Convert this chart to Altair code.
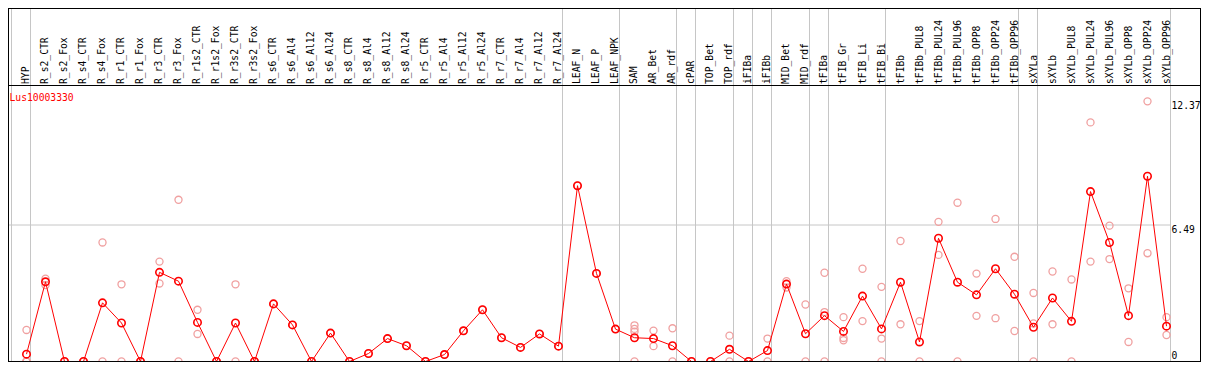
import altair as alt
import pandas as pd

gene = "Lus10003330"

categories = [
    "HYP", "R_s2_CTR", "R_s2_Fox", "R_s4_CTR", "R_s4_Fox", "R_r1_CTR", "R_r1_Fox",
    "R_r3_CTR", "R_r3_Fox", "R_r1s2_CTR", "R_r1s2_Fox", "R_r3s2_CTR", "R_r3s2_Fox",
    "R_s6_CTR", "R_s6_Al4", "R_s6_Al12", "R_s6_Al24", "R_s8_CTR", "R_s8_Al4",
    "R_s8_Al12", "R_s8_Al24", "R_r5_CTR", "R_r5_Al4", "R_r5_Al12", "R_r5_Al24",
    "R_r7_CTR", "R_r7_Al4", "R_r7_Al12", "R_r7_Al24", "LEAF_N", "LEAF_P", "LEAF_NPK",
    "SAM", "AR_Bet", "AR_rdf", "cPAR", "TOP_Bet", "TOP_rdf", "iFIBa", "iFIBb",
    "MID_Bet", "MID_rdf", "tFIBa", "tFIB_Gr", "tFIB_Li", "tFIB_Bi", "tFIBb",
    "tFIBb_PUL8", "tFIBb_PUL24", "tFIBb_PUL96", "tFIBb_OPP8", "tFIBb_OPP24",
    "tFIBb_OPP96", "sXYLa", "sXYLb", "sXYLb_PUL8", "sXYLb_PUL24", "sXYLb_PUL96",
    "sXYLb_OPP8", "sXYLb_OPP24", "sXYLb_OPP96",
]

mean_expr = [
    0.35, 3.79, 0, 0, 2.79, 1.83, 0, 4.24, 3.82, 1.86, 0, 1.83, 0,
    2.74, 1.74, 0, 1.35, 0, 0.38, 1.09, 0.75, 0, 0.33, 1.46, 2.46,
    1.13, 0.67, 1.31, 0.73, 8.36, 4.19, 1.54,
    1.13, 1.09, 0.75, 0, 0, 0.58, 0, 0.52, 3.68, 1.32, 2.18, 1.43, 3.11, 1.55,
    3.77, 0.93, 5.86, 3.77, 3.17, 4.41, 3.20, 1.63, 3.02, 1.91, 8.08, 5.66,
    2.18, 8.81, 1.68,
]

rep_expr = [
    [1.50, 0, 0, 0], [3.94, 3.63], [0, 0], [0, 0], [5.66, 0], [3.67, 0], [0, 0],
    [4.75, 3.71], [7.69, 0], [2.46, 1.31], [0, 0], [3.67, 0], [0, 0],
    [2.74], [1.74], [0], [1.35], [0], [0.38], [1.09], [0.75], [0], [0.33], [1.46], [2.46],
    [1.13], [0.67], [1.31], [0.73], [8.36], [4.19], [1.54],
    [1.72, 1.55, 1.42, 0], [1.47, 0.73], [1.58, 0], [0], [0], [1.23, 0], [0], [1.09, 0],
    [3.82, 3.52], [2.71, 0], [4.22, 2.35, 0], [2.11, 1.12, 1.01], [4.41, 1.92],
    [3.55, 1.09, 0], [5.73, 1.77], [1.92, 0], [6.64, 5.07], [7.55, 0], [4.18, 2.17],
    [6.78, 2.06], [4.98, 1.45], [3.26, 1.81, 0], [4.28, 1.77], [3.90, 0],
    [11.37, 4.75], [6.46, 4.87], [3.48, 0.93], [12.37, 5.15], [2.11, 1.26],
]

# group separators are drawn just after these category indices
sep_after = [-1, 0, 28, 31, 34, 35, 37, 38, 39, 41, 42, 45, 52, 53, 60]

tick_values = [0, 6.49, 12.37]

W, H = 1193, 354
FONT = "DejaVu Sans Mono"
FS = 9.7
GRID = "#c6c6c6"

x_scale = alt.Scale(domain=[-0.97368, 61.81579], nice=False, zero=False)
y_scale = alt.Scale(domain=[-0.02378, 16.8093], nice=False, zero=False)

mean_df = pd.DataFrame({"idx": list(range(len(categories))), "cat": categories, "expr": mean_expr})
rep_df = pd.DataFrame(
    [{"idx": i, "expr": v} for i, reps in enumerate(rep_expr) for v in reps]
)
sep_df = pd.DataFrame({"idx": sep_after})
tick_df = pd.DataFrame({"v": tick_values, "label": [f"{v:g}" for v in tick_values]})
grid_df = tick_df.iloc[1:-1]
top_ticks = tick_df[tick_df["v"] > 0]
zero_tick = tick_df[tick_df["v"] == 0]

X = alt.X("idx:Q", scale=x_scale, axis=None)
Y = alt.Y("expr:Q", scale=y_scale, axis=None)

seps = alt.Chart(sep_df).mark_rule(color=GRID, strokeWidth=1, xOffset=4).encode(
    x=X, y=alt.value(0), y2=alt.value(H)
)
grid = alt.Chart(grid_df).mark_rule(color=GRID, strokeWidth=1).encode(
    y=alt.Y("v:Q", scale=y_scale, axis=None), x=alt.value(0), x2=alt.value(1162.5)
)
zero_line = alt.Chart(zero_tick).mark_rule(color="black", strokeWidth=1).encode(
    y=alt.Y("v:Q", scale=y_scale, axis=None), x=alt.value(0), x2=alt.value(W)
)
frame_h = alt.Chart(pd.DataFrame({"k": [0, 1]})).mark_rule(color="black", strokeWidth=1).encode(
    y=alt.value(77.5), x=alt.value(0), x2=alt.value(W)
)
frame_top = alt.Chart(pd.DataFrame({"k": [0]})).mark_rule(color="black", strokeWidth=1).encode(
    y=alt.value(0.5), x=alt.value(0), x2=alt.value(W)
)
frame_l = alt.Chart(pd.DataFrame({"k": [0]})).mark_rule(color="black", strokeWidth=1).encode(
    x=alt.value(0.5), y=alt.value(0), y2=alt.value(H)
)
frame_r = alt.Chart(pd.DataFrame({"k": [0]})).mark_rule(color="black", strokeWidth=1).encode(
    x=alt.value(W - 0.5), y=alt.value(0), y2=alt.value(H)
)

reps = alt.Chart(rep_df).mark_point(
    shape="circle", filled=False, color="#f0a0a0", size=50, strokeWidth=1.3, opacity=1
).encode(x=X, y=Y)

line = alt.Chart(mean_df).mark_line(color="#ff0000", strokeWidth=1).encode(
    x=X, y=Y, order="idx:Q"
)
means = alt.Chart(mean_df).mark_point(
    shape="circle", filled=False, color="#ff0000", size=55, strokeWidth=1.6, opacity=1
).encode(x=X, y=Y)

labels = alt.Chart(mean_df).mark_text(
    angle=270, align="left", baseline="alphabetic", dy=3, font=FONT, fontSize=FS, color="black"
).encode(x=X, y=alt.value(76), text="cat:N")

title = alt.Chart(pd.DataFrame({"gene": [gene]})).mark_text(
    align="left", baseline="alphabetic", font=FONT, fontSize=FS, color="#ff0000"
).encode(x=alt.value(1.5), y=alt.value(92.7), text="gene:N")

tick_top = alt.Chart(top_ticks).mark_text(
    align="left", baseline="top", font=FONT, fontSize=FS, color="black"
).encode(x=alt.value(1163.5), y=alt.Y("v:Q", scale=y_scale, axis=None), text="label:N")
tick_zero = alt.Chart(zero_tick).mark_text(
    align="left", baseline="bottom", font=FONT, fontSize=FS, color="black"
).encode(x=alt.value(1163.5), y=alt.Y("v:Q", scale=y_scale, axis=None), text="label:N")

chart = alt.layer(
    seps, grid, frame_top, frame_h, frame_l, frame_r, reps, line, means, zero_line,
    labels, title, tick_top, tick_zero,
).properties(
    width=W, height=H, autosize=alt.AutoSizeParams(type="none"), padding=0, background="white"
).configure_view(stroke=None)

chart.save("out.html", embed_options={"renderer": "svg", "actions": False})
